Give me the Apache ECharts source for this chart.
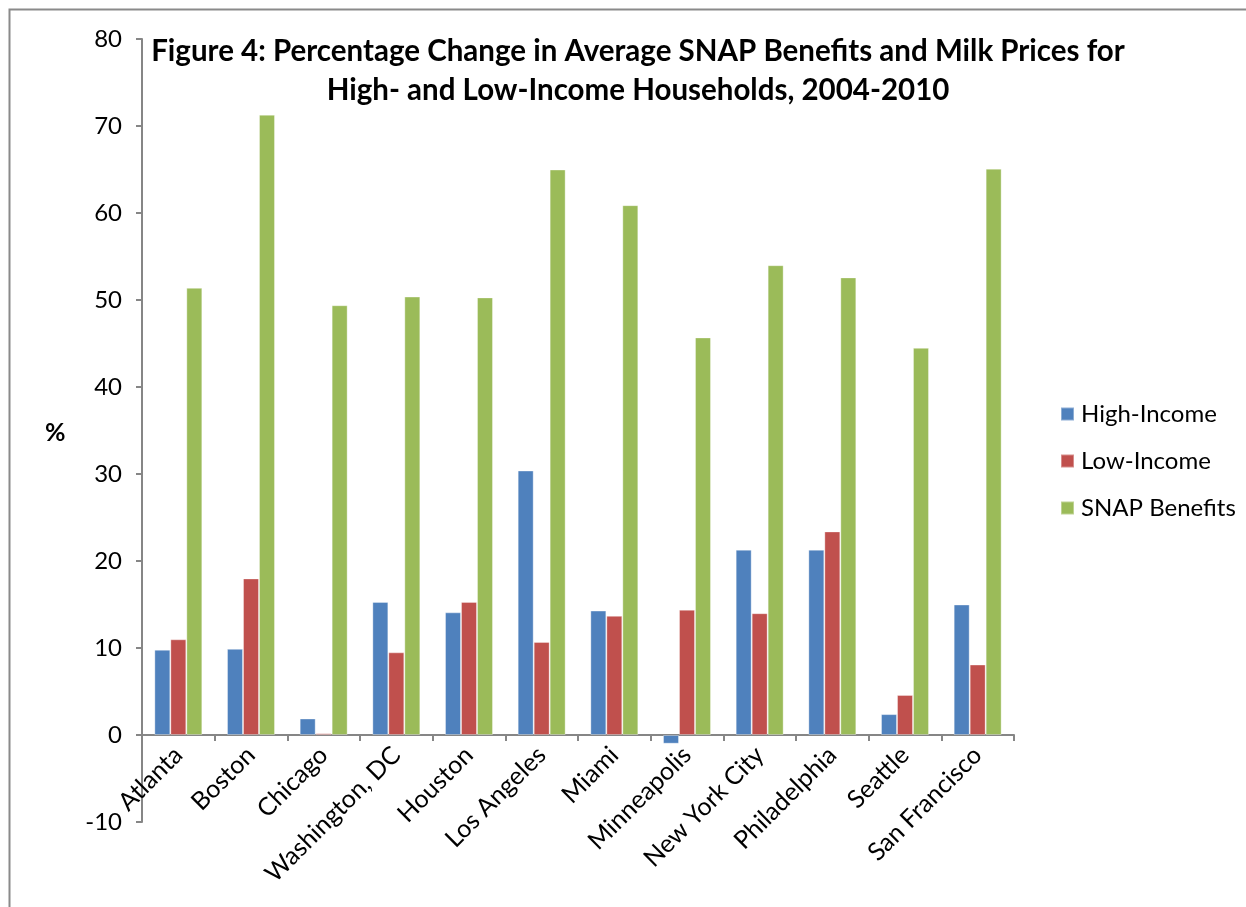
<!DOCTYPE html>
<html>
<head>
<meta charset="utf-8">
<script src="https://cdn.jsdelivr.net/npm/echarts@6/dist/echarts.min.js"></script>
<style>html,body{margin:0;padding:0;background:#fff;}#c{width:1246px;height:907px;}</style>
</head>
<body>
<div id="c"></div>
<script>
const cities = ['Atlanta','Boston','Chicago','Washington, DC','Houston','Los Angeles','Miami','Minneapolis','New York City','Philadelphia','Seattle','San Francisco'];
const highIncome = [9.8, 9.9, 1.9, 15.3, 14.1, 30.4, 14.3, -1.0, 21.3, 21.3, 2.4, 15.0];
const lowIncome  = [11.0, 18.0, 0.2, 9.5, 15.3, 10.7, 13.7, 14.4, 14.0, 23.4, 4.6, 8.1];
const snapBenefits = [51.4, 71.3, 49.4, 50.4, 50.3, 65.0, 60.9, 45.7, 54.0, 52.6, 44.5, 65.1];
const seriesNames = ['High-Income','Low-Income','SNAP Benefits'];
const yTicks = {min: -10, max: 80, interval: 10};

const FONT = 'Lato, "Open Sans", sans-serif';
const GRID = {left: 142, right: 232, top: 39, bottom: 85};
const plotH = 907 - GRID.top - GRID.bottom;
const zeroOffset = -plotH * (0 - yTicks.min) / (yTicks.max - yTicks.min);

const chart = echarts.init(document.getElementById('c'), null, {renderer: 'canvas'});
const colors = ['#4F81BD', '#C0504D', '#9BBB59'];
const mk = (name, data, i) => ({
  name, type: 'bar', data, barGap: '0%', barCategoryGap: '34%',
  itemStyle: {color: colors[i], borderColor: 'rgba(255,255,255,0.35)', borderWidth: 1},
  emphasis: {disabled: true}
});
chart.setOption({
  animation: false,
  textStyle: {fontFamily: FONT},
  title: {
    text: 'Figure 4: Percentage Change in Average SNAP Benefits and Milk Prices for\nHigh- and Low-Income Households, 2004-2010',
    left: 633, top: 27, textAlign: 'center',
    textStyle: {fontFamily: FONT, fontWeight: 'bold', fontSize: 29.5, lineHeight: 39, color: '#000'}
  },
  graphic: [
    {type: 'rect', shape: {x: 9.5, y: 9.5, width: 1300, height: 1000}, style: {fill: 'none', stroke: '#8a8a8a', lineWidth: 2}, silent: true},
    {type: 'text', left: 45, top: 420, style: {text: '%', font: 'bold 25px ' + FONT, fill: '#000'}}
  ],
  legend: {
    orient: 'vertical', left: 1055, top: 397, itemGap: 23, itemWidth: 13, itemHeight: 13,
    icon: 'rect',
    textStyle: {fontFamily: FONT, fontSize: 24, color: '#000', padding: [0,0,0,2]},
    data: seriesNames
  },
  grid: Object.assign({containLabel: false, outerBoundsMode: 'none'}, GRID),
  xAxis: {
    type: 'category', data: cities, position: 'bottom', offset: zeroOffset,
    axisLine: {onZero: false, lineStyle: {color: '#868686', width: 2}},
    axisTick: {show: true, length: 6, lineStyle: {color: '#868686', width: 2}},
    axisLabel: {rotate: 45, interval: 0, fontSize: 25, color: '#000', fontFamily: FONT, margin: 16}
  },
  yAxis: {
    type: 'value', min: yTicks.min, max: yTicks.max, interval: yTicks.interval,
    splitLine: {show: false},
    axisLine: {show: true, lineStyle: {color: '#868686', width: 2}},
    axisTick: {show: true, length: 6, lineStyle: {color: '#868686', width: 2}},
    axisLabel: {fontSize: 24, color: '#000', fontFamily: FONT, margin: 20}
  },
  series: [mk(seriesNames[0], highIncome, 0), mk(seriesNames[1], lowIncome, 1), mk(seriesNames[2], snapBenefits, 2)]
});
</script>
</body>
</html>
